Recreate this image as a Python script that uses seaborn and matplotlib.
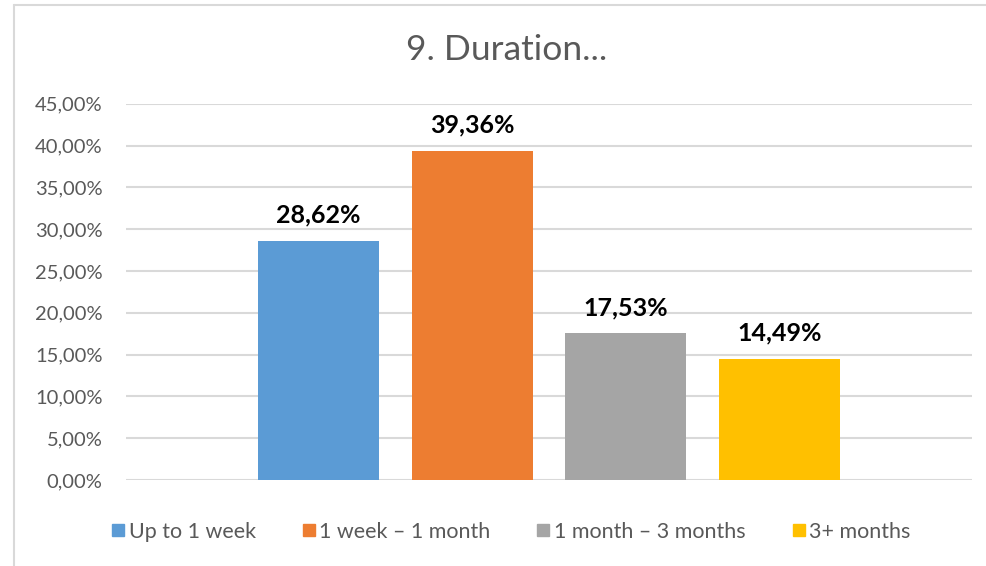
import matplotlib
matplotlib.use('Agg')
import matplotlib.pyplot as plt
import seaborn as sns
from matplotlib.lines import Line2D
from matplotlib.ticker import FuncFormatter

# Data
labels = ['Up to 1 week', '1 week – 1 month', '1 month – 3 months', '3+ months']
values = [28.62, 39.36, 17.53, 14.49]
colors = ['#5B9BD5', '#ED7D31', '#A5A5A5', '#FFC000']
yticks = [0, 5, 10, 15, 20, 25, 30, 35, 40, 45]

sns.set_theme(style='white')
plt.rcParams['font.family'] = ['Lato', 'DejaVu Sans']

fig = plt.figure(figsize=(9.87, 5.66), dpi=100)
ax = fig.add_axes([126 / 987, 1 - 480 / 566, 846 / 987, (480 - 103.7) / 566])

sns.barplot(x=labels, y=values, hue=labels, palette=colors, width=0.787,
            legend=False, saturation=1, linewidth=0, ax=ax)

ax.set_xlim(-1.25, 4.25)
ax.set_ylim(0, 45)
ax.set_yticks(yticks)
ax.yaxis.set_major_formatter(FuncFormatter(lambda v, p: f'{v:.2f}%'.replace('.', ',')))
ax.tick_params(axis='y', labelsize=14.5, labelcolor='#595959', length=0, pad=17)
ax.set_xticks([])
ax.set_xlabel('')
ax.set_ylabel('')
ax.grid(axis='y', color='#D9D9D9', linewidth=1.5)
ax.set_axisbelow(True)
for s in ax.spines.values():
    s.set_visible(False)

# value labels
for i, v in enumerate(values):
    ax.annotate(f'{v:.2f}%'.replace('.', ','), (i, v), xytext=(0, 13),
                textcoords='offset points', ha='center', va='baseline',
                fontsize=18, fontweight='bold', color='black')

fig.text(506.5 / 987, 1 - 50 / 566, '9. Duration...', ha='center', va='center',
         fontsize=25.5, color='#595959')

handles = [Line2D([], [], marker='s', linestyle='', markersize=8.5,
                  markerfacecolor=c, markeredgecolor=c) for c in colors]
fig.legend(handles, labels, loc='center', bbox_to_anchor=(509.5 / 987, 1 - 532 / 566),
           ncol=4, frameon=False, fontsize=15.5, labelcolor='#595959',
           handletextpad=0.05, columnspacing=2.0, handlelength=0.9)

# chart border (top and left edges visible)
fig.add_artist(Line2D([14 / 987, 1], [1 - 5 / 566, 1 - 5 / 566], color='#D9D9D9', linewidth=1.5))
fig.add_artist(Line2D([14 / 987, 14 / 987], [0, 1 - 5 / 566], color='#D9D9D9', linewidth=1.5))

fig.savefig('out.png', dpi=100)
